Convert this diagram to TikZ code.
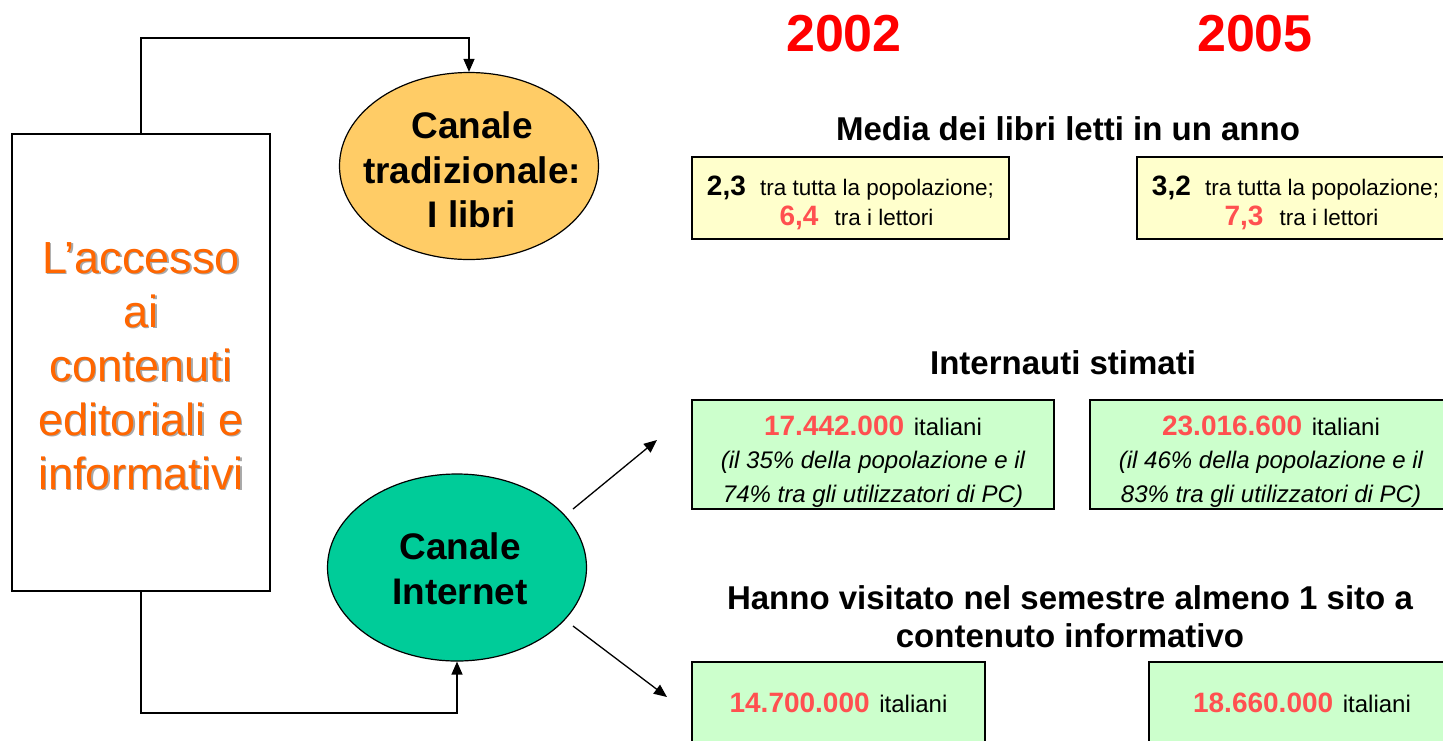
\documentclass[tikz,border=0pt]{standalone}
\usepackage{fontspec}
\setmainfont{Liberation Sans}
\usetikzlibrary{shapes.geometric,arrows.meta,calc}
\definecolor{ellyellow}{HTML}{FFCC66}
\definecolor{ellgreen}{HTML}{00CC99}
\definecolor{boxyellow}{HTML}{FFFFCC}
\definecolor{boxgreen}{HTML}{CCFFCC}
\definecolor{numred}{HTML}{FF5050}
\definecolor{yearred}{HTML}{FF0000}
\definecolor{accorange}{HTML}{FF6600}
\definecolor{shadowgray}{HTML}{A8A8A8}
\newcommand{\ynumb}[1]{{\fontsize{28}{30}\selectfont\bfseries #1}}
\newcommand{\rnumb}[1]{{\fontsize{28}{30}\selectfont\bfseries\color{numred}#1}}
\begin{document}
\begin{tikzpicture}[x=1pt,y=-1pt,
  conn/.style={line width=1.3pt,-{Triangle[length=13pt,width=11pt]}},
  boxbase/.style={draw,line width=1.3pt,inner sep=0pt,align=center},
  ybox/.style={boxbase,fill=boxyellow,minimum width=317,minimum height=82,
    font=\fontsize{22.5}{30}\selectfont},
  gbox/.style={boxbase,fill=boxgreen,minimum height=109,
    font=\fontsize{24}{33.5}\selectfont},
  ellbase/.style={ellipse,draw,line width=1.2pt,inner sep=0pt,minimum width=259,minimum height=187},
  elltext/.style={align=center,inner sep=0pt,font=\fontsize{37}{44.5}\selectfont\bfseries},
  title/.style={inner sep=0pt,align=center,font=\fontsize{33}{38}\selectfont\bfseries},
  year/.style={inner sep=0pt,anchor=base,text=yearred,font=\fontsize{52}{52}\selectfont\bfseries},
  acctext/.style={inner sep=0pt,align=center,font=\fontsize{45}{54}\selectfont}
]
\useasboundingbox (0,0) rectangle (1443,740);
\clip (0,0) rectangle (1443,740);

% left box
\node[draw,line width=1.3pt,fill=white,minimum width=258,minimum height=457,inner sep=0pt] (lb) at (141,362.5) {};
\node[acctext,text=shadowgray] (accsh) at (142.5,367.5) {L’accesso\\ai\\contenuti\\editoriali e\\informativi};
\node[acctext,text=accorange] (acc) at (141,366) {L’accesso\\ai\\contenuti\\editoriali e\\informativi};

% ellipses
\node[ellbase,fill=ellyellow] (trad) at (469,166) {};
\node[elltext] (tradtxt) at (472,170) {Canale\\tradizionale:\\I libri};
\node[ellbase,fill=ellgreen] (inet) at (457,567.5) {};
\node[elltext] (inettxt) at (460,569) {Canale\\Internet};

% connectors
\coordinate (tturn) at (469,38);
\draw[conn] (lb.north) |- (tturn) -- (trad.north);
\coordinate (bturn) at (457,713);
\draw[conn] (lb.south) |- (bturn) -- (inet.south);
\coordinate (a1s) at (573,509);
\coordinate (a1e) at (657,440);
\draw[conn] (a1s) -- (a1e);
\coordinate (a2s) at (573,626);
\coordinate (a2e) at (667,697);
\draw[conn] (a2s) -- (a2e);

% years
\node[year] (y1) at (844,51) {2002};
\node[year] (y2) at (1255,51) {2005};

% titles
\node[title,anchor=base] (t1) at (1068,140) {Media dei libri letti in un anno};
\node[title,anchor=base] (t2) at (1063,374) {Internauti stimati};
\node[title] (t3) at (1070,617) {Hanno visitato nel semestre almeno 1 sito a\\contenuto informativo};

% yellow boxes
\node[ybox] (b1) at (850.5,198) {};
\node[inner sep=0pt,align=center,font=\fontsize{22.5}{30}\selectfont] (b1t) at (850.5,203) {\ynumb{2,3}\hspace{8pt} tra tutta la popolazione;\\\hspace*{12pt}\rnumb{6,4}\hspace{10pt} tra i lettori};
\node[ybox] (b2) at (1295.5,198) {};
\node[inner sep=0pt,align=center,font=\fontsize{22.5}{30}\selectfont] (b2t) at (1295.5,203) {\ynumb{3,2}\hspace{8pt} tra tutta la popolazione;\\\hspace*{12pt}\rnumb{7,3}\hspace{10pt} tra i lettori};

% green boxes
\node[gbox,minimum width=362] (g1) at (873,454.5) {};
\node[inner sep=0pt,align=center,font=\fontsize{24}{33.5}\selectfont] (g1t) at (873,461.5) {\rnumb{17.442.000}\hspace{3pt} italiani\\\itshape (il 35\% della popolazione e il\\\itshape 74\% tra gli utilizzatori di PC)};
\node[gbox,minimum width=362] (g2) at (1271,454.5) {};
\node[inner sep=0pt,align=center,font=\fontsize{24}{33.5}\selectfont] (g2t) at (1271,461.5) {\rnumb{23.016.600}\hspace{3pt} italiani\\\itshape (il 46\% della popolazione e il\\\itshape 83\% tra gli utilizzatori di PC)};
\node[gbox,minimum width=293,minimum height=82] (g3) at (838.5,703) {\rnumb{14.700.000}\hspace{3pt} italiani};
\node[gbox,minimum width=306,minimum height=82] (g4) at (1302,703) {\rnumb{18.660.000}\hspace{3pt} italiani};
\end{tikzpicture}
\end{document}
